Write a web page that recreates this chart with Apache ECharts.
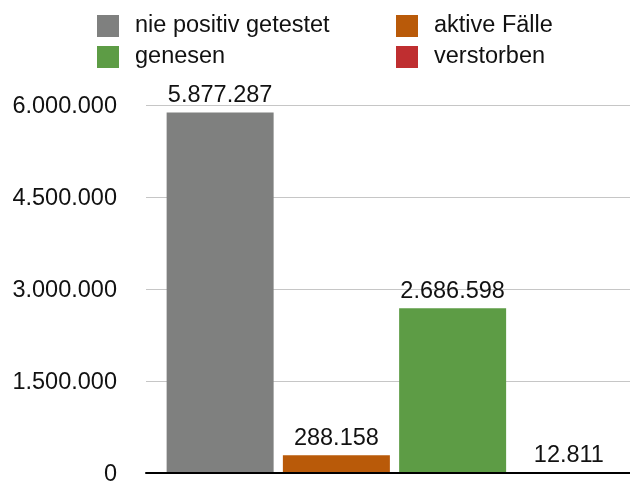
<!DOCTYPE html>
<html>
<head>
<meta charset="utf-8">
<script src="https://cdn.jsdelivr.net/npm/echarts@6/dist/echarts.min.js"></script>
<style>html,body{margin:0;padding:0;background:#fff}#c{width:630px;height:482px}</style>
</head>
<body>
<div id="c"></div>
<script>
var categories = ['nie positiv getestet', 'aktive Fälle', 'genesen', 'verstorben'];
var values = [5877287, 288158, 2686598, 12811];
var colors = ['#7f807f', '#b95a09', '#5d9c45', '#bf2e30'];
var yTicks = [0, 1500000, 3000000, 4500000, 6000000];

var FONT = '"Liberation Sans", Arial, Helvetica, sans-serif';
function fmt(v) {
  return String(Math.round(v)).replace(/\B(?=(\d{3})+(?!\d))/g, '.');
}

var series = categories.map(function (name, i) {
  return {
    name: name,
    type: 'bar',
    xAxisIndex: 1,
    yAxisIndex: 1,
    stack: 'all',
    barWidth: 107,
    z: 2,
    itemStyle: { color: colors[i] },
    label: {
      show: true,
      position: 'top',
      distance: 5,
      fontFamily: FONT,
      fontSize: 23.5,
      color: '#111',
      formatter: function (p) { return fmt(p.value); }
    },
    data: categories.map(function (c, j) { return j === i ? values[i] : '-'; })
  };
});

var legendText = { fontFamily: FONT, fontSize: 23.5, color: '#111', lineHeight: 16, padding: [6, 0, 0, 11] };

var chart = echarts.init(document.getElementById('c'), null, { renderer: 'canvas' });
chart.setOption({
  animation: false,
  backgroundColor: '#ffffff',
  legend: [
    {
      data: [categories[0], categories[2]],
      orient: 'vertical',
      left: 97, top: 14, padding: 0,
      itemWidth: 22, itemHeight: 22, itemGap: 7,
      icon: 'rect',
      textStyle: legendText
    },
    {
      data: [categories[1], categories[3]],
      orient: 'vertical',
      left: 396, top: 14, padding: 0,
      itemWidth: 22, itemHeight: 22, itemGap: 7,
      icon: 'rect',
      textStyle: legendText
    }
  ],
  grid: [
    { left: 146, right: 0, top: 105, bottom: 9, containLabel: false, outerBoundsMode: 'none' },
    { left: 162, right: 3, top: 105, bottom: 9, containLabel: false, outerBoundsMode: 'none' }
  ],
  xAxis: [
    {
      type: 'category', gridIndex: 0, data: categories, z: 10,
      axisLine: { show: true, lineStyle: { color: '#000', width: 2 } },
      axisTick: { show: false }, axisLabel: { show: false }
    },
    {
      type: 'category', gridIndex: 1, data: categories,
      axisLine: { show: false }, axisTick: { show: false }, axisLabel: { show: false }
    }
  ],
  yAxis: [
    {
      type: 'value', gridIndex: 0, min: yTicks[0], max: yTicks[yTicks.length - 1],
      interval: yTicks[1] - yTicks[0],
      axisLine: { show: false }, axisTick: { show: false },
      splitLine: { show: true, lineStyle: { color: '#c6c6c6', width: 1 } },
      axisLabel: {
        margin: 29,
        formatter: function (v) { return '{a|' + fmt(v) + '}'; },
        rich: {
          a: { fontFamily: FONT, fontSize: 23.5, color: '#111', lineHeight: 24, padding: [4, 0, 0, 0] }
        }
      }
    },
    {
      type: 'value', gridIndex: 1, min: yTicks[0], max: yTicks[yTicks.length - 1],
      interval: yTicks[1] - yTicks[0],
      show: false, splitLine: { show: false }
    }
  ],
  series: series
});
</script>
</body>
</html>
